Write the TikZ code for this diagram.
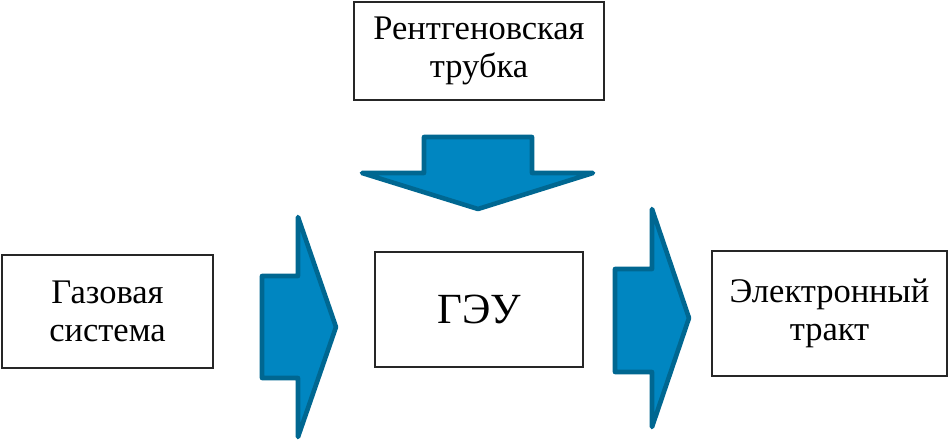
\documentclass[tikz,border=0pt]{standalone}
\usepackage{fontspec}
\setmainfont{Liberation Serif}
\begin{document}
\begin{tikzpicture}[x=1pt,y=-1pt,
  blk/.style={draw=black!85, line width=2.8pt, fill=white, inner sep=0pt, align=center, font=\fontsize{34.5}{38.5}\selectfont},
  bigarrow/.style={fill=arrowfill, draw=arrowline, line width=4.6pt, line join=round}]
\definecolor{arrowfill}{HTML}{0086C1}
\definecolor{arrowline}{HTML}{006791}
\useasboundingbox (0,0) rectangle (949,440);
\node[blk, minimum width=250pt, minimum height=98pt] (xray) at (479,51) {Рентгеновская\\трубка};
\node[blk, minimum width=211pt, minimum height=113pt] (gas) at (107.5,311.5) {Газовая\\система};
\node[blk, minimum width=208pt, minimum height=115pt, font=\fontsize{43}{48}\selectfont] (geu) at (479,309.5) {ГЭУ};
\node[blk, minimum width=235pt, minimum height=125pt] (el) at (829.5,313.5) {Электронный\\тракт};
\draw[bigarrow] (424,137) -- (532,137) -- (532,173) -- (593,173) -- (478,209) -- (362,173) -- (424,173) -- cycle;
\draw[bigarrow] (262,276) -- (298,276) -- (298,217) -- (336,327) -- (298,437) -- (298,378) -- (262,378) -- cycle;
\draw[bigarrow] (615,269) -- (652,269) -- (652,209) -- (689,318) -- (652,427) -- (652,372) -- (615,372) -- cycle;
\end{tikzpicture}
\end{document}
